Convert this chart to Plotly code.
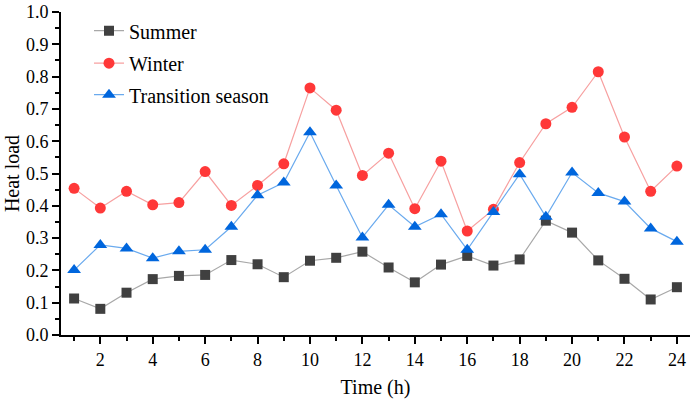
import plotly.graph_objects as go

hours = list(range(1, 25))
summer = [0.113, 0.081, 0.131, 0.173, 0.183, 0.186, 0.232, 0.219, 0.179, 0.230, 0.239, 0.258,
          0.209, 0.163, 0.218, 0.245, 0.215, 0.234, 0.354, 0.317, 0.231, 0.174, 0.110, 0.148]
winter = [0.454, 0.393, 0.445, 0.403, 0.410, 0.506, 0.401, 0.463, 0.530, 0.765, 0.696, 0.494,
          0.563, 0.391, 0.538, 0.322, 0.389, 0.534, 0.654, 0.705, 0.815, 0.613, 0.445, 0.523]
transition = [0.201, 0.279, 0.268, 0.238, 0.259, 0.264, 0.335, 0.433, 0.472, 0.628, 0.463, 0.302,
              0.403, 0.335, 0.374, 0.264, 0.381, 0.498, 0.366, 0.503, 0.440, 0.413, 0.330, 0.289]
x_ticks = [2, 4, 6, 8, 10, 12, 14, 16, 18, 20, 22, 24]
y_ticks = [0.0, 0.1, 0.2, 0.3, 0.4, 0.5, 0.6, 0.7, 0.8, 0.9, 1.0]

FONT = "Liberation Serif"

fig = go.Figure()
fig.add_trace(go.Scatter(x=hours, y=summer, name="Summer", mode="lines+markers",
                         line=dict(color="#a8a8a8", width=1.2),
                         marker=dict(symbol="square", size=10, color="#404040"),
                         legend="legend"))
fig.add_trace(go.Scatter(x=hours, y=winter, name="Winter", mode="lines+markers",
                         line=dict(color="#f7a0a0", width=1.2),
                         marker=dict(symbol="circle", size=11, color="#ff3838"),
                         legend="legend2"))
fig.add_trace(go.Scatter(x=hours, y=transition, name="Transition season", mode="lines+markers",
                         line=dict(color="#6aaaee", width=1.2),
                         marker=dict(symbol="triangle-up", size=12, color="#0066dd"),
                         legend="legend3"))

L, R, T, B = 61, 2, 7, 64
W, H = 692, 399
pw = W - L - R
ph = H - T - B

def lx(px):
    return (px - L) / pw

def ly(py):
    return (H - B - py) / ph

leg_common = dict(xanchor="left", yanchor="middle", bgcolor="rgba(0,0,0,0)",
                  font=dict(family=FONT, size=20, color="#000"), borderwidth=0)

fig.update_layout(
    width=W, height=H,
    margin=dict(l=L, r=R, t=T, b=B),
    paper_bgcolor="white", plot_bgcolor="white",
    font=dict(family=FONT, color="#000"),
    showlegend=True,
    legend=dict(x=lx(89), y=ly(26), **leg_common),
    legend2=dict(x=lx(89), y=ly(59), **leg_common),
    legend3=dict(x=lx(89), y=ly(91), **leg_common),
    xaxis=dict(range=[0.5, 24.5], tickvals=x_ticks, ticktext=[str(v) for v in x_ticks],
               showgrid=False, zeroline=False, showline=True, linecolor="#000", linewidth=2,
               ticks="outside", ticklen=7, tickwidth=1.5, tickcolor="#000",
               ticklabeloverflow="allow",
               minor=dict(dtick=1, tick0=1, ticks="outside", ticklen=4, tickwidth=1.5, tickcolor="#000"),
               tickfont=dict(family=FONT, size=18),
               title=dict(text="Time (h)", font=dict(family=FONT, size=20), standoff=12)),
    yaxis=dict(range=[0, 1.0], tickvals=y_ticks, ticktext=[f"{v:.1f}" for v in y_ticks],
               showgrid=False, zeroline=False, showline=True, linecolor="#000", linewidth=2,
               ticks="outside", ticklen=7, tickwidth=1.5, tickcolor="#000",
               ticklabeloverflow="allow",
               minor=dict(dtick=0.05, tick0=0, ticks="outside", ticklen=4, tickwidth=1.5, tickcolor="#000"),
               tickfont=dict(family=FONT, size=18),
               title=dict(text="Heat load", font=dict(family=FONT, size=20), standoff=1)),
)

fig.write_html("out.html", config={"displayModeBar": False},
               post_script="document.body.style.margin='0';")
